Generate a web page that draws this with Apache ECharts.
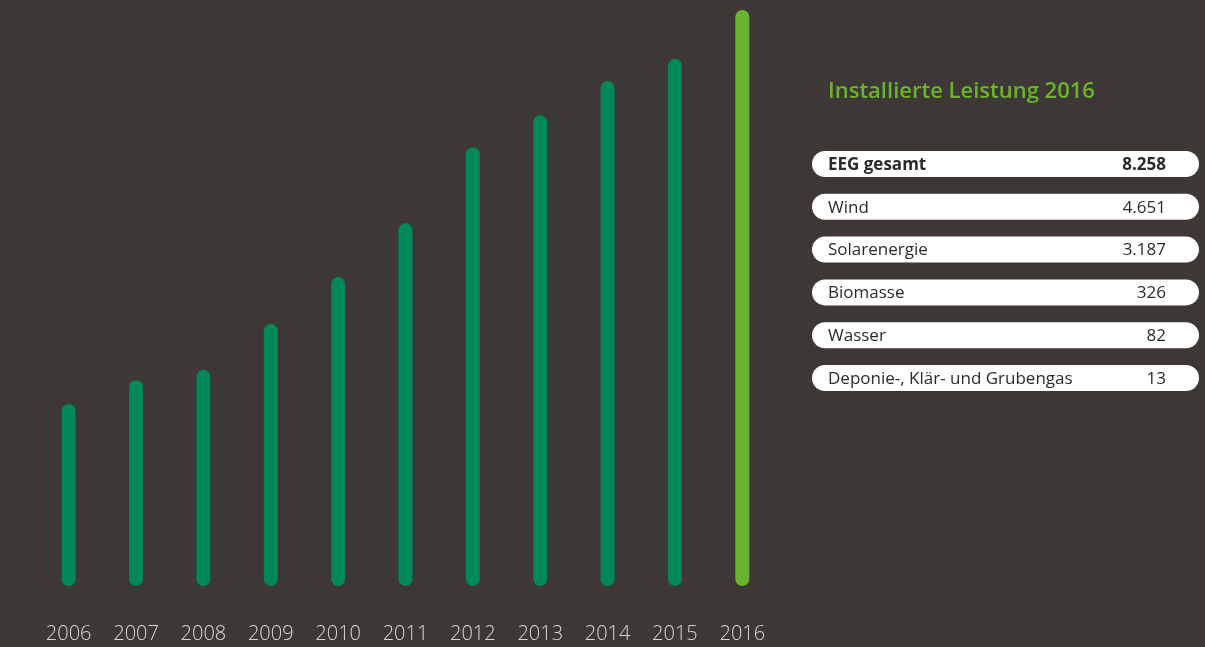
<!DOCTYPE html>
<html>
<head>
<meta charset="utf-8">
<script src="https://cdn.jsdelivr.net/npm/echarts@6/dist/echarts.min.js"></script>
<style>
  html, body { margin: 0; padding: 0; background: #3d3835; }
  #main { width: 1205px; height: 647px; }
</style>
</head>
<body>
<div id="main"></div>
<script>
// years and installed capacity (2016 = EEG gesamt)
var years = ['2006', '2007', '2008', '2009', '2010', '2011', '2012', '2013', '2014', '2015', '2016'];
var leistung = [2610, 2950, 3100, 3760, 4430, 5200, 6290, 6750, 7240, 7560, 8258];

// table on the right
var tableTitle = 'Installierte Leistung 2016';
var sources = ['EEG gesamt', 'Wind', 'Solarenergie', 'Biomasse', 'Wasser', 'Deponie-, Klär- und Grubengas'];
var sourceValues = ['8.258', '4.651', '3.187', '326', '82', '13'];

var green = '#00875a';
var lightGreen = '#6ab42d';
var fontFam = '"Open Sans", "Noto Sans", sans-serif';

var rows = [];
sources.forEach(function (name, i) {
    var y = 151 + i * 42.8;
    var bold = i === 0;
    rows.push({
        type: 'rect',
        shape: {x: 812, y: y, width: 387, height: 26, r: 13},
        style: {fill: '#ffffff'}
    });
    rows.push({
        type: 'text',
        x: 828, y: y + 14,
        style: {
            text: name, fill: '#2b2b2b',
            font: (bold ? 'bold ' : '') + '17px ' + fontFam,
            textVerticalAlign: 'middle', verticalAlign: 'middle'
        }
    });
    rows.push({
        type: 'text',
        x: 1166, y: y + 14,
        style: {
            text: sourceValues[i], fill: '#2b2b2b',
            font: (bold ? 'bold ' : '') + '17px ' + fontFam,
            align: 'right', textAlign: 'right',
            textVerticalAlign: 'middle', verticalAlign: 'middle'
        }
    });
});

var option = {
    backgroundColor: '#3d3835',
    animation: false,
    grid: {left: 35, width: 741, top: 10, bottom: 61},
    xAxis: {
        type: 'category',
        data: years,
        axisLine: {show: false},
        axisTick: {show: false},
        axisLabel: {
            color: '#d9d6d2',
            fontSize: 20,
            fontFamily: fontFam,
            fontWeight: 300,
            margin: 38
        }
    },
    yAxis: {
        type: 'value',
        min: 0,
        max: 8258,
        show: false,
        splitLine: {show: false}
    },
    series: [{
        type: 'bar',
        barWidth: 14,
        data: leistung.map(function (v, i) {
            return {
                value: v,
                itemStyle: {color: i === leistung.length - 1 ? lightGreen : green}
            };
        }),
        itemStyle: {borderRadius: 7}
    }],
    graphic: [{
        type: 'text',
        x: 828, y: 92,
        style: {
            text: tableTitle, fill: lightGreen,
            font: '600 22px ' + fontFam,
            textVerticalAlign: 'middle', verticalAlign: 'middle'
        }
    }].concat(rows)
};

var chart = echarts.init(document.getElementById('main'));
chart.setOption(option);
</script>
</body>
</html>
